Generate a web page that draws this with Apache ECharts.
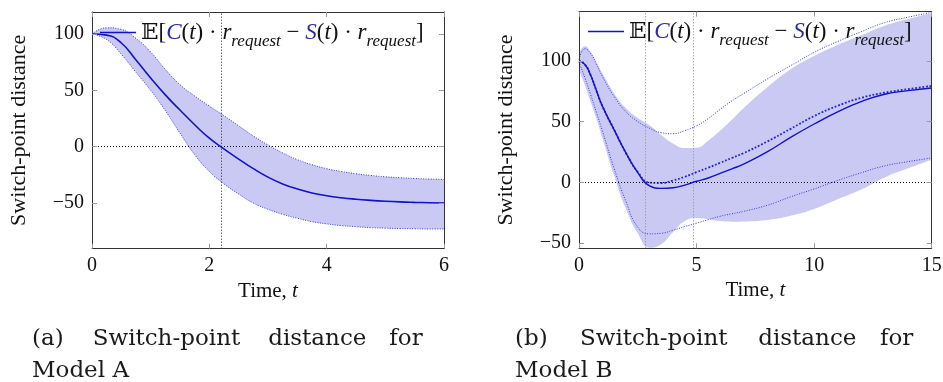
<!DOCTYPE html>
<html><head><meta charset="utf-8">
<script src="https://cdn.jsdelivr.net/npm/echarts@6/dist/echarts.min.js"></script>
<style>html,body{margin:0;padding:0;background:#fff}#c{width:943px;height:382px}</style>
</head><body><div id="c"></div>
<script>
// ---------- Model A ----------
const tA = [0,0.25,0.5,0.75,1,1.25,1.5,1.75,2,2.25,2.5,2.75,3,3.25,3.5,3.75,4,4.25,4.5,4.75,5,5.25,5.5,5.75,6];
const meanA = [100,99,92,77,61,46,32.5,19.5,7.5,-2,-11,-19.5,-27,-33,-37.5,-41,-43.5,-45.3,-46.6,-47.6,-48.4,-49,-49.4,-49.7,-50];
const upperA = [100,105.5,104,96,84,68.5,55,45,36,27.5,18.5,9.5,1.5,-5.5,-11.5,-16,-19.5,-22,-24,-25.5,-26.7,-27.5,-28.2,-28.7,-29];
const lowerA = [100,95,82,66,50,32,12,-7,-22,-33,-42,-50,-55.5,-60,-63.5,-66.5,-68.5,-70,-71,-71.8,-72.3,-72.6,-72.8,-73,-73];
const crossA = [2.2];
const xTicksA = [0,2,4,6];
const yTicksA = [-50,0,50,100];

// ---------- Model B ----------
const tB = [0,0.25,0.5,0.75,1,1.5,2,2.5,3,3.5,4,4.5,5,5.5,6,6.5,7,8,9,10,11,12,13,14,15];
const meanB = [100,97,88,75,62.5,43,24,8,-3,-5,-4.5,-2.3,0.8,3.5,7.3,11,15,25,37,48,58,66.5,72.5,75.5,77.7];
const midB = [100,97,88,75,62.5,43,24,8.5,-0.3,-0.6,1.5,4.5,8.3,12,16,20,24,33.5,44,54.5,63,69.5,73.8,76.8,79.3];
const upperB = [101,110,106,97,87,70.5,58,50,44.5,40.8,40,42.5,46.5,52.5,60,67,73,85,96,107,116,124,131.5,136,140];
const lowerB = [99,86,72,57,42,11,-16,-37,-42.5,-42,-39.5,-36.5,-33.7,-30.8,-28,-26,-24,-19,-12,-5.5,1.5,7.8,13.5,17,20];
const fillUpperB = [106,112,107,98.5,89.5,73,61,53,47,39,32,28.3,28.5,34.5,42.5,51.5,61,78,93,104,113,121,129,134.5,139.5];
const fillLowerB = [92,80,66,52,36,5,-22,-42,-54,-51,-41,-32,-29.5,-30.5,-32,-32.5,-32.3,-31,-27.5,-22,-14,-6,4,11.5,18.6];
const crossB = [2.8,4.88];
const xTicksB = [0,5,10,15];
const yTicksB = [-50,0,50,100];

const FONT = '"Liberation Serif","DejaVu Serif",serif';
const FILL = '#c9c9f3';
const EDGE = '#3535f0';
const MEAN = '#1212c8';
const SMOOTH = 0.5;

function pairs(t, v){ return t.map((x,i)=>[x, v[i]]); }
const minus = v => String(v).replace('-', '\u2212');

function xAxes(gi, min, max, ticks){
  const tick = {show:true, inside:true, length:5, lineStyle:{color:'#9a9a9a', width:1}, customValues:ticks};
  const line = {show:true, onZero:false, lineStyle:{color:'#333', width:1}};
  return [
    {type:'value', gridIndex:gi, min, max, position:'bottom', z:10, axisLine:line, axisTick:tick,
     axisLabel:{customValues:ticks, margin:7, fontFamily:FONT, fontSize:20, color:'#111', formatter:minus},
     splitLine:{show:false}, name:'Time, {i|t}', nameLocation:'middle', nameGap:29,
     nameTextStyle:{fontFamily:FONT, fontSize:21, color:'#111', rich:{i:{fontFamily:FONT, fontSize:21, fontStyle:'italic', color:'#111'}}}},
    {type:'value', gridIndex:gi, min, max, position:'top', z:10, axisLine:line, axisTick:tick,
     axisLabel:{show:false}, splitLine:{show:false}}
  ];
}
function yAxes(gi, min, max, ticks){
  const tick = {show:true, inside:true, length:5, lineStyle:{color:'#9a9a9a', width:1}, customValues:ticks};
  const line = {show:true, onZero:false, lineStyle:{color:'#333', width:1}};
  return [
    {type:'value', gridIndex:gi, min, max, position:'left', z:10, axisLine:line, axisTick:tick,
     axisLabel:{customValues:ticks, margin:8, fontFamily:FONT, fontSize:20, color:'#111', formatter:minus},
     splitLine:{show:false}, name:'Switch-point distance', nameLocation:'middle', nameGap:62,
     nameTextStyle:{fontFamily:FONT, fontSize:22, color:'#111'}},
    {type:'value', gridIndex:gi, min, max, position:'right', z:10, axisLine:line, axisTick:tick,
     axisLabel:{show:false}, splitLine:{show:false}}
  ];
}

// Band: fill under the upper edge, then white under the lower edge, both down to the axis start.
function bandSeries(id, xi, yi, t, up, lo){
  return [
    {type:'line', name:id+'bandUp', xAxisIndex:xi, yAxisIndex:yi, data:pairs(t, up),
     smooth:SMOOTH, symbol:'none', lineStyle:{width:0, opacity:0}, areaStyle:{color:FILL, opacity:1, origin:'start'}, silent:true, z:1},
    {type:'line', name:id+'bandLo', xAxisIndex:xi, yAxisIndex:yi, data:pairs(t, lo),
     smooth:SMOOTH, symbol:'none', lineStyle:{width:0, opacity:0}, areaStyle:{color:'#ffffff', opacity:1, origin:'start'}, silent:true, z:1}
  ];
}
function lineSeries(name, xi, yi, t, v, style, z){
  return {type:'line', name, xAxisIndex:xi, yAxisIndex:yi, data:pairs(t, v), smooth:SMOOTH, symbol:'none',
          lineStyle:style, itemStyle:{color:style.color}, silent:true, z:z};
}
function marks(crosses, vColor){
  return {symbol:['none','none'], silent:true, label:{show:false}, animation:false,
    data:[{yAxis:0, lineStyle:{color:'#000', type:[1,2], width:1}}]
      .concat(crosses.map(c=>({xAxis:c, lineStyle:{color:vColor, type:[1,2], width:1}})))};
}

const dotted = {color:EDGE, width:1, type:[1,1.5]};

const series = [].concat(
  bandSeries('A', 0, 0, tA, upperA, lowerA),
  [lineSeries('upperA', 0, 0, tA, upperA, dotted, 3),
   lineSeries('lowerA', 0, 0, tA, lowerA, dotted, 3),
   Object.assign(lineSeries('meanA', 0, 0, tA, meanA, {color:MEAN, width:1.6}, 5), {markLine:marks(crossA, '#222')})],
  bandSeries('B', 2, 2, tB, fillUpperB, fillLowerB),
  [lineSeries('upperB', 2, 2, tB, upperB, dotted, 3),
   lineSeries('lowerB', 2, 2, tB, lowerB, dotted, 3),
   lineSeries('midB', 2, 2, tB, midB, {color:'#2020e0', width:1.8, type:[1.8,1.8]}, 4),
   Object.assign(lineSeries('meanB', 2, 2, tB, meanB, {color:MEAN, width:1.4}, 5), {markLine:marks(crossB, '#8a8a8a')})]
);

const legendText = '{n|\u{1D53C}[}{c|C}{n|(}{i|t}{n|) · }{i|r}{s|request}{n| − }{c|S}{n|(}{i|t}{n|) · }{i|r}{s|request}{n|]}';
const rich = {
  n:{fontFamily:FONT, fontSize:23, color:'#111', lineHeight:23, verticalAlign:'top'},
  i:{fontFamily:FONT, fontSize:23, fontStyle:'italic', color:'#111', lineHeight:23, verticalAlign:'top'},
  c:{fontFamily:FONT, fontSize:23, fontStyle:'italic', color:'#2a2aa8', lineHeight:23, verticalAlign:'top'},
  s:{fontFamily:FONT, fontSize:17, fontStyle:'italic', color:'#111', lineHeight:17, verticalAlign:'top', padding:[12,0,0,0]}
};
function legendCfg(name, left, top){
  return {data:[name], left, top, padding:0, icon:'rect', itemWidth:36, itemHeight:1.4, itemGap:0, selectedMode:false,
    itemStyle:{color:MEAN}, formatter:()=>legendText, textStyle:{rich, padding:[0,0,0,0]}, backgroundColor:'transparent'};
}

const caption = (txt, x, y, align) => ({type:'text', x, y, style:{text:txt, fontFamily:'"DejaVu Serif",serif', fontSize:23, fill:'#1a1a1a', align:align||'left', verticalAlign:'middle'}});

const option = {
  animation:false,
  backgroundColor:'#fff',
  grid:[
    {left:92, top:12, width:352, height:236.7, containLabel:false, outerBoundsMode:'none'},
    {left:579, top:11.7, width:352.7, height:236.6, containLabel:false, outerBoundsMode:'none'}
  ],
  xAxis:[].concat(xAxes(0, 0, 6, xTicksA), xAxes(1, 0, 15, xTicksB)),
  yAxis:[].concat(yAxes(0, -90.5, 119.5, yTicksA), yAxes(1, -54.4, 140.5, yTicksB)),
  legend:[legendCfg('meanA', 100, 21), legendCfg('meanB', 588, 20)],
  series,
  graphic:[
    caption('(a)', 32, 339), caption('Switch-point', 92.7, 339), caption('distance', 317.3, 339, 'center'), caption('for', 422.7, 339, 'right'),
    caption('Model A', 32, 371),
    caption('(b)', 515, 339), caption('Switch-point', 580, 339), caption('distance', 807.3, 339, 'center'), caption('for', 913.3, 339, 'right'),
    caption('Model B', 515, 371)
  ]
};
const chart = echarts.init(document.getElementById('c'), null, {renderer:'canvas'});
chart.setOption(option);
</script></body></html>
